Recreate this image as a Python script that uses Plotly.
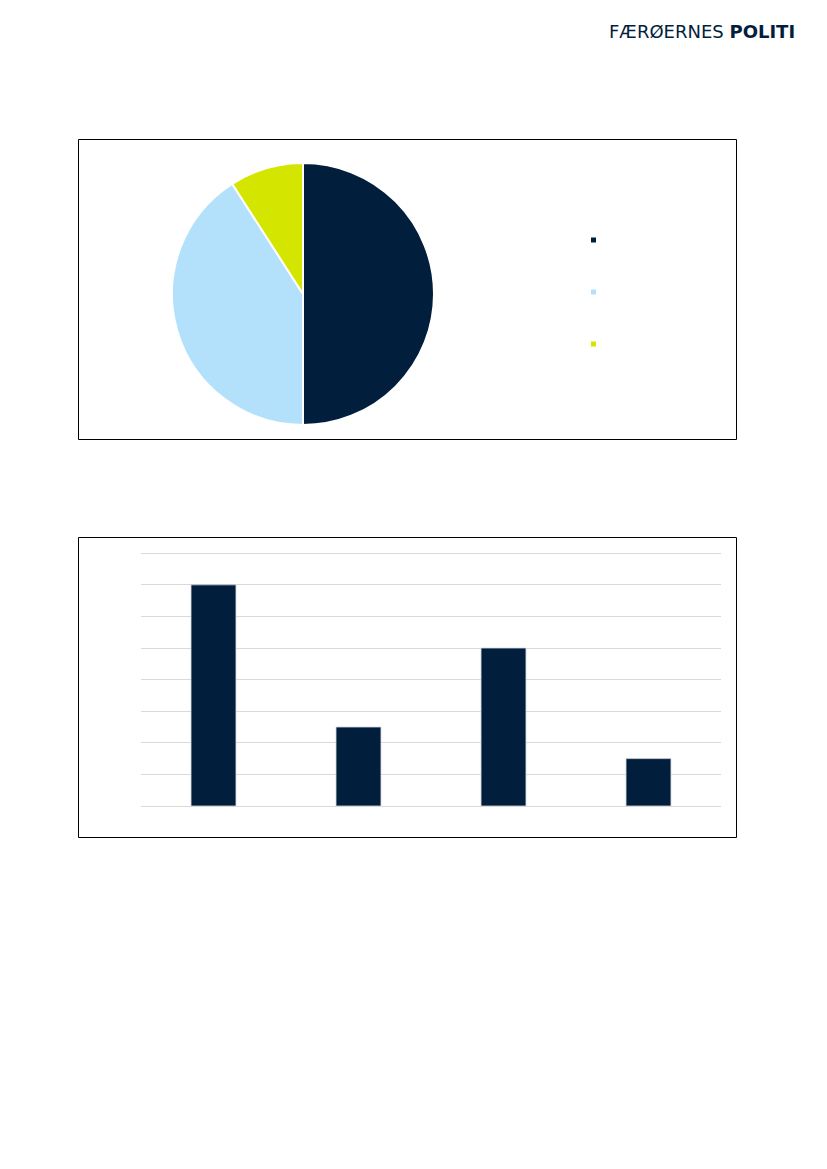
import plotly.graph_objects as go

# ---- data ----
pie_labels = ["A", "B", "C"]
pie_values = [11, 9, 2]
pie_colors = ["#011E3C", "#B3E1FC", "#D4E600"]

bar_categories = ["Kat 1", "Kat 2", "Kat 3", "Kat 4"]
bar_values = [7, 2.5, 5, 1.5]
bar_color = "#011E3C"
y_ticks = [0, 1, 2, 3, 4, 5, 6, 7, 8]

OFF = 8  # default body margin of the page
W, H = 827 - 2 * OFF, 1169 - 2 * OFF

def fx(px):
    return (px - OFF) / W

def fy(py):
    return 1 - (py - OFF) / H

fig = go.Figure()

fig.add_trace(go.Pie(
    labels=pie_labels, values=pie_values, sort=False, direction="clockwise",
    rotation=0, marker=dict(colors=pie_colors, line=dict(color="white", width=2)),
    textinfo="none", hoverinfo="label+value", showlegend=False,
    domain=dict(x=[fx(172), fx(434)], y=[fy(425), fy(163)]),
))

fig.add_trace(go.Bar(
    x=bar_categories, y=bar_values, marker=dict(color=bar_color, line=dict(color="#d0d6de", width=0.8)),
    width=0.31, showlegend=False, xaxis="x", yaxis="y",
))

shapes = [
    dict(type="rect", xref="paper", yref="paper", x0=fx(78.5), x1=fx(736.5), y0=fy(439.5), y1=fy(139.5),
         line=dict(color="black", width=1)),
    dict(type="rect", xref="paper", yref="paper", x0=fx(78.5), x1=fx(736.5), y0=fy(837.5), y1=fy(537.5),
         line=dict(color="black", width=1)),
]
# legend squares
for i, c in enumerate(pie_colors):
    cy = 240 + i * 52
    shapes.append(dict(type="rect", xref="paper", yref="paper", x0=fx(591), x1=fx(596),
                       y0=fy(cy + 2.5), y1=fy(cy - 2.5), line=dict(width=0), fillcolor=c))

fig.update_layout(
    width=W, height=H, margin=dict(l=0, r=0, t=0, b=0),
    paper_bgcolor="white", plot_bgcolor="white",
    shapes=shapes,
    xaxis=dict(domain=[fx(141), fx(721)], showticklabels=False, showgrid=False, zeroline=False,
               showline=False, ticks=""),
    yaxis=dict(domain=[fy(806), fy(552)], range=[0, 8.04], tickvals=y_ticks, showticklabels=False,
               showgrid=True, gridcolor="#d9d9d9", gridwidth=1, zeroline=True, zerolinecolor="#d9d9d9",
               zerolinewidth=1, showline=False, ticks=""),
    annotations=[dict(
        text="FÆRØERNES <b>POLITI</b>", xref="paper", yref="paper", x=fx(797), y=fy(31),
        xanchor="right", yanchor="middle", showarrow=False,
        font=dict(family="DejaVu Sans", size=18, color="#011E3C"),
    )],
)

fig.write_html("out.html")
